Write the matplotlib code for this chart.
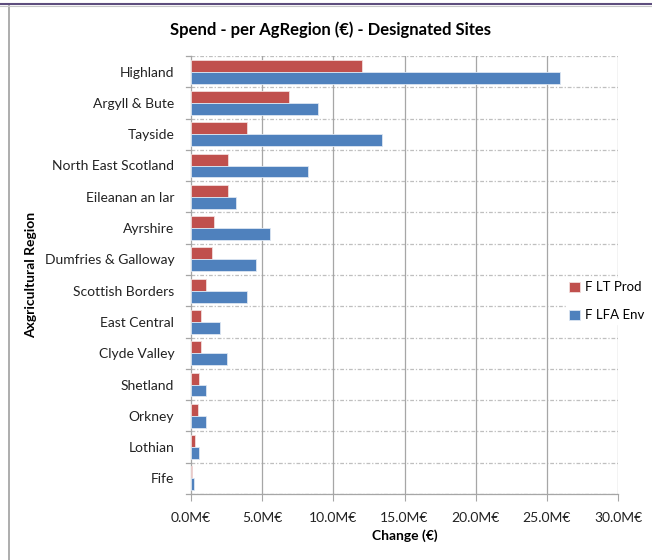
"""Spend per agricultural region on designated sites, horizontal grouped bars."""
import matplotlib.pyplot as plt
import matplotlib.lines as mlines
import numpy as np

plt.rcParams["font.family"] = ["Lato", "DejaVu Sans"]

regions = [
    "Highland", "Argyll & Bute", "Tayside", "North East Scotland",
    "Eileanan an Iar", "Ayrshire", "Dumfries & Galloway", "Scottish Borders",
    "East Central", "Clyde Valley", "Shetland", "Orkney", "Lothian", "Fife",
]
# values in million euro
lt_prod = [12.0, 6.9, 3.95, 2.6, 2.6, 1.6, 1.45, 1.03, 0.68, 0.68, 0.54, 0.47, 0.28, 0.09]
lfa_env = [25.95, 8.9, 13.45, 8.2, 3.15, 5.55, 4.6, 3.9, 2.05, 2.55, 1.08, 1.03, 0.58, 0.23]
x_ticks = [0, 5, 10, 15, 20, 25, 30]

RED = "#C0504D"
BLUE = "#4F81BD"
GRID = "#A6A6A6"

W, H = 652, 560
fig = plt.figure(figsize=(W / 100, H / 100), dpi=100)
ax = fig.add_axes([191 / W, 1 - 494 / H, (618 - 191) / W, (494 - 56) / H])

y = np.arange(len(regions))
bh = 0.38
ax.barh(y - bh / 2, lt_prod, height=bh, color=RED, edgecolor="#F2DCDB",
        linewidth=0.6, label="F LT Prod", zorder=3)
ax.barh(y + bh / 2, lfa_env, height=bh, color=BLUE, edgecolor="#DCE6F2",
        linewidth=0.6, label="F LFA Env", zorder=3)

ax.set_xlim(0, 30)
ax.set_ylim(len(regions) - 0.5, -0.5)
ax.set_xticks(x_ticks)
ax.set_xticklabels([f"{v:.1f}M€" for v in x_ticks], fontsize=10, color="#222222")
ax.set_yticks(y)
ax.set_yticklabels(regions, fontsize=10, color="#222222")
ax.tick_params(axis="y", length=0, pad=12)
ax.tick_params(axis="x", length=5, color=GRID, pad=8)

# category boundaries: dashed grid with small outside ticks
for b in np.arange(-0.5, len(regions), 1.0):
    ax.axhline(b, color="#BFBFBF", lw=0.9, ls=(0, (3, 1.5, 1, 1.5)), zorder=1)
    ax.plot([-0.35, 0], [b, b], color=GRID, lw=0.9, clip_on=False, zorder=1)
for v in x_ticks[1:]:
    ax.axvline(v, color=GRID, lw=0.9, zorder=1)

for side in ["top", "right"]:
    ax.spines[side].set_visible(False)
for side in ["left", "bottom"]:
    ax.spines[side].set_color(GRID)
    ax.spines[side].set_linewidth(0.9)

ax.set_xlabel("Change (€)", fontsize=10, fontweight="bold", labelpad=4)
ax.set_ylabel("Axgricultural Region", fontsize=10, fontweight="bold", labelpad=12)
ax.yaxis.set_label_coords(-(191 - 37) / (618 - 191), 0.5)

fig.text(331 / W, 1 - 30 / H, "Spend - per AgRegion (€) - Designated Sites",
         ha="center", va="center", fontsize=12, fontweight="bold")

leg = fig.legend(loc="upper left", bbox_to_anchor=(566 / W, 1 - 278 / H),
                 fontsize=9.5, frameon=True, fancybox=False, edgecolor="white",
                 handlelength=0.8, handleheight=0.8, handletextpad=0.4,
                 labelspacing=1.2, borderpad=0.25, borderaxespad=0)
leg.get_frame().set_facecolor("white")
leg.get_frame().set_alpha(1)

# chart frame edges visible in the screenshot
fig.add_artist(mlines.Line2D([8.5 / W, 8.5 / W], [0, 1 - 6 / H], color="#A0A0A0", lw=1.2))
fig.add_artist(mlines.Line2D([0, 1], [1 - 4 / H, 1 - 4 / H], color="#5E4E7E", lw=1.5))
fig.add_artist(mlines.Line2D([0, 1], [1 - 6 / H, 1 - 6 / H], color="#C8C8C8", lw=0.8))

fig.savefig("out.png", dpi=100)
